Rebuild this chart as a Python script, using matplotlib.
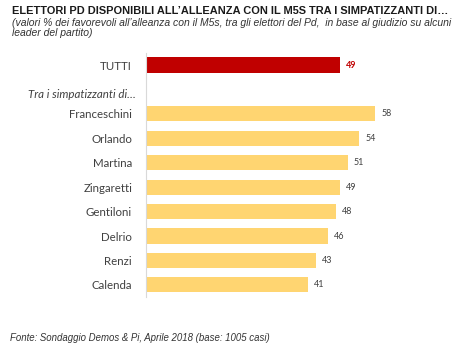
import matplotlib
matplotlib.use("Agg")
import matplotlib.pyplot as plt

categories = ["TUTTI", "Franceschini", "Orlando", "Martina", "Zingaretti",
              "Gentiloni", "Delrio", "Renzi", "Calenda"]
values = [49, 58, 54, 51, 49, 48, 46, 43, 41]
positions = [0, 2, 3, 4, 5, 6, 7, 8, 9]
colors = ["#C00000"] + ["#FFD571"] * 8

title = "ELETTORI PD DISPONIBILI ALL\u2019ALLEANZA CON IL M5S TRA I SIMPATIZZANTI DI\u2026"
subtitle_lines = ["(valori % dei favorevoli all\u2019alleanza con il M5s, tra gli elettori del Pd,  in base al giudizio su alcuni",
                  "leader del partito)"]
group_label = "Tra i simpatizzanti di\u2026"
footer = "Fonte: Sondaggio Demos & Pi, Aprile 2018 (base: 1005 casi)"

W, H = 477, 352
fig = plt.figure(figsize=(W / 100, H / 100), dpi=100)
ax = fig.add_axes([0.306, 0.156, 0.58, 0.694])

ax.barh(positions, values, height=0.62, color=colors)
ax.set_xlim(0, 70)
ax.set_ylim(9.5, -0.5)
ax.set_xticks([])
ax.set_yticks(positions)
ax.set_yticklabels(categories, fontsize=8.3, color="#404040", family="Lato")
ax.tick_params(axis="y", length=0, pad=10)
for s in ["top", "right", "bottom"]:
    ax.spines[s].set_visible(False)
ax.spines["left"].set_color("#D9D9D9")
ax.spines["left"].set_linewidth(0.8)

for i, (p, v) in enumerate(zip(positions, values)):
    if i == 0:
        ax.text(v + 1.5, p, str(v), va="center", ha="left", fontsize=6.5,
                color="#C00000", fontweight="bold", family="Lato")
    else:
        ax.text(v + 1.5, p, str(v), va="center", ha="left", fontsize=6.5,
                color="#404040", family="Lato")

ax.text(-10 / 3.95, 1.2, group_label, ha="right", va="center", fontsize=8.3,
        style="italic", color="#404040", family="Lato")

fig.text(12 / W, 1 - 11.5 / H, title, fontsize=7.9, fontweight="bold", color="#1a1a1a",
         family="Liberation Sans", va="center", ha="left")
for k, (line, yy) in enumerate(zip(subtitle_lines, [23.5, 32.5])):
    fig.text(12 / W, 1 - yy / H, line, fontsize=7.5, style="italic", color="#333333",
             family="Liberation Sans", va="center", ha="left")
fig.text(10 / W, 0.04, footer, fontsize=6.9, style="italic", color="#333333",
         family="Liberation Sans", va="center", ha="left")

fig.savefig("out.png", dpi=100, facecolor="white")
